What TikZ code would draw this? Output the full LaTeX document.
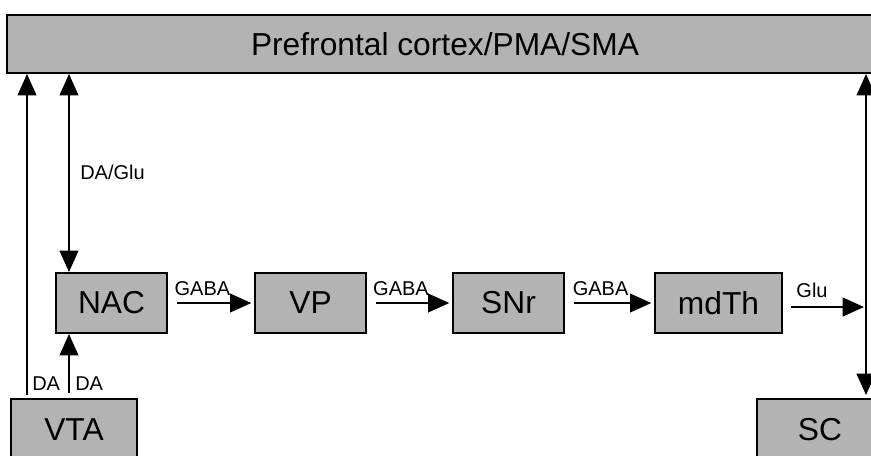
\documentclass[tikz,border=0pt]{standalone}
\usepackage{fontspec}
\setmainfont{Liberation Sans}
\usetikzlibrary{arrows.meta}
\definecolor{boxgray}{RGB}{179,179,179}
\tikzset{
  box/.style={draw, line width=1.5pt, fill=boxgray, font=\fontsize{23.8}{28}\selectfont, inner sep=0pt},
  arr/.style={line width=1.5pt, -{Triangle[length=16pt,width=14pt]}},
  dblarr/.style={line width=1.5pt, {Triangle[length=16pt,width=14pt]}-{Triangle[length=16pt,width=14pt]}},
  lbl/.style={font=\fontsize{15}{17}\selectfont, inner sep=0pt}
}
\begin{document}
\begin{tikzpicture}[x=0.75pt,y=-0.75pt]
\useasboundingbox (0,0) rectangle (871,455);
\clip (0,0) rectangle (871,455);
\node[box, minimum width=657pt, minimum height=43.5pt] (PFC) at (445,44) {Prefrontal cortex/PMA/SMA};
\node[box, minimum width=83.25pt, minimum height=45pt] (NAC) at (111.5,303) {NAC};
\node[box, minimum width=83.25pt, minimum height=45pt] (VP) at (310.5,303) {VP};
\node[box, minimum width=83.25pt, minimum height=45pt] (SNr) at (508.5,303) {SNr};
\node[box, minimum width=95.25pt, minimum height=45pt] (mdTh) at (718.5,303) {mdTh};
\node[box, minimum width=94.5pt, minimum height=46.5pt] (VTA) at (74,430) {VTA};
\node[box, minimum width=94.5pt, minimum height=46.5pt] (SC) at (820,430) {SC};
\coordinate (xa) at (27,0);
\coordinate (xb) at (69,0);
\coordinate (xr) at (866,0);
\coordinate (glu) at (866,307);
\draw[arr, shorten <=2.25pt] (VTA.north -| xa) -- (PFC.south -| xa);
\draw[arr, shorten <=3.75pt] (VTA.north -| xb) -- (NAC.south -| xb);
\draw[dblarr] (PFC.south -| xb) -- (NAC.north -| xb);
\draw[dblarr, shorten >=2.25pt] (PFC.south -| xr) -- (SC.north -| xr);
\draw[arr, shorten <=7pt, shorten >=2pt] (NAC) -- node[lbl, above=5pt, pos=0.4] {GABA} (VP);
\draw[arr, shorten <=7pt, shorten >=2pt] (VP) -- node[lbl, above=5pt, pos=0.4] {GABA} (SNr);
\draw[arr, shorten <=7pt, shorten >=2pt] (SNr) -- node[lbl, above=5pt, pos=0.4] {GABA} (mdTh);
\draw[arr, shorten <=6pt, shorten >=1.5pt] (mdTh.east |- glu) -- node[lbl, above=6.5pt, pos=0.35] {Glu} (glu);
\node[lbl, anchor=west] (daglu) at (80,172.5) {DA/Glu};
\node[lbl, anchor=west] (da1) at (32,383.5) {DA};
\node[lbl, anchor=west] (da2) at (75,383.5) {DA};
\end{tikzpicture}
\end{document}
